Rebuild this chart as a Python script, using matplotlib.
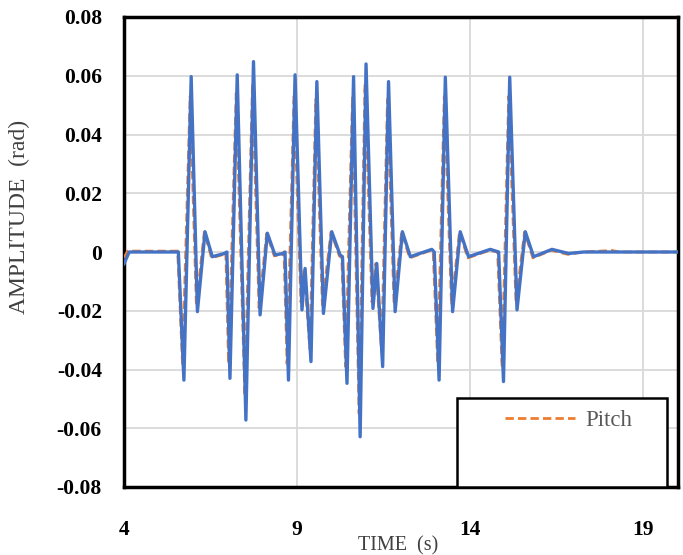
import matplotlib
matplotlib.use("Agg")
import matplotlib.pyplot as plt
from matplotlib.patches import Rectangle
from matplotlib.lines import Line2D

plt.rcParams['font.family'] = ['Liberation Serif', 'DejaVu Serif']

# Reference (blue, solid) series
ref_time = [4.0, 4.15, 5.57, 5.73, 5.94, 6.12, 6.34, 6.55, 6.90, 6.97,
            7.06, 7.27, 7.52, 7.74, 7.93, 8.14, 8.36, 8.60, 8.65, 8.75,
            8.94, 9.14, 9.23, 9.40, 9.57, 9.76, 10.0, 10.24, 10.31, 10.44,
            10.63, 10.82, 10.99, 11.19, 11.30, 11.47, 11.64, 11.83, 12.04, 12.27,
            12.89, 12.96, 13.10, 13.28, 13.49, 13.71, 13.95, 14.58, 14.82, 14.96,
            15.14, 15.35, 15.59, 15.83, 16.36, 16.84, 17.28, 20.0]
ref_amp = [-0.004, 0.0, 0.0, -0.0436, 0.0597, -0.0203, 0.0069, -0.0016, -0.0005, 0.0,
           -0.043, 0.0603, -0.0572, 0.0648, -0.0214, 0.0064, -0.001, -0.0005, 0.0, -0.0436,
           0.0603, -0.0197, -0.0056, -0.0373, 0.058, -0.0209, 0.0069, -0.001, -0.0016, -0.0447,
           0.0597, -0.0629, 0.064, -0.0192, -0.0039, -0.039, 0.058, -0.0203, 0.0069, -0.0016,
           0.0009, 0.0, -0.0436, 0.0595, -0.0203, 0.0069, -0.0016, 0.0009, 0.0, -0.0441,
           0.0595, -0.0197, 0.0069, -0.0016, 0.0009, -0.0005, 0.0, 0.0]

# Pitch (orange, dashed) series
pitch_time = [4.0, 4.1, 5.55, 5.69, 5.91, 6.09, 6.32, 6.53, 6.88, 6.94,
              7.02, 7.24, 7.49, 7.71, 7.90, 8.12, 8.34, 8.58, 8.62, 8.71,
              8.91, 9.11, 9.20, 9.37, 9.54, 9.73, 9.98, 10.22, 10.29, 10.40,
              10.60, 10.79, 10.96, 11.16, 11.27, 11.44, 11.61, 11.80, 12.02, 12.25,
              12.87, 12.93, 13.06, 13.25, 13.46, 13.69, 13.93, 14.56, 14.79, 14.92,
              15.11, 15.32, 15.57, 15.81, 16.34, 16.82, 17.26, 18.1, 18.3, 20.0]
pitch_amp = [-0.002, 0.0003, 0.0003, -0.038, 0.053, -0.018, 0.0068, -0.002, -0.0008, 0.0,
             -0.038, 0.054, -0.049, 0.057, -0.019, 0.0063, -0.0013, -0.0008, 0.0, -0.038,
             0.053, -0.017, -0.006, -0.033, 0.052, -0.018, 0.0068, -0.0013, -0.002, -0.039,
             0.053, -0.055, 0.057, -0.017, -0.004, -0.034, 0.052, -0.018, 0.0068, -0.002,
             0.0006, 0.0, -0.038, 0.053, -0.018, 0.0068, -0.002, 0.0006, 0.0, -0.039,
             0.053, -0.017, 0.0068, -0.002, 0.0006, -0.0008, 0.0, 0.0005, 0.0, 0.0]

x_ticks = [4, 9, 14, 19]
y_ticks = [-0.08, -0.06, -0.04, -0.02, 0, 0.02, 0.04, 0.06, 0.08]
y_tick_labels = ['-0.08', '-0.06', '-0.04', '-0.02', '0', '0.02', '0.04', '0.06', '0.08']

fig = plt.figure(figsize=(6.83, 5.55), dpi=100)
ax = fig.add_axes([124/683, 68/555, 554/683, 470/555])

ax.plot(pitch_time, pitch_amp, color='#ED7D31', lw=2.0, dashes=(3, 1.5),
        dash_joinstyle='round', zorder=3)
ax.plot(ref_time, ref_amp, color='#4472C4', lw=2.4,
        solid_joinstyle='round', zorder=4)

ax.set_xlim(4, 20)
ax.set_ylim(-0.08, 0.08)
ax.set_xticks(x_ticks)
ax.set_xticklabels([str(v) for v in x_ticks], fontsize=15.5, fontweight='bold')
ax.set_yticks(y_ticks)
ax.set_yticklabels(y_tick_labels, fontsize=15.5, fontweight='bold')
ax.tick_params(axis='both', length=0)
ax.tick_params(axis='y', pad=16)
ax.tick_params(axis='x', pad=24)
ax.grid(True, color='#d9d9d9', lw=1.3, zorder=0)
ax.set_axisbelow(True)
for s in ax.spines.values():
    s.set_linewidth(2.5)
    s.set_color('black')

ax.set_xlabel('TIME  (s)', fontsize=14.5, color='#404040')
ax.xaxis.set_label_coords(0.495, -0.104)
ax.set_ylabel('AMPLITUDE  (rad)', fontsize=17, color='#404040')
ax.yaxis.set_label_coords(-0.170, 0.574)

# Legend box
box = Rectangle((0.601, 0.0), 0.379, 0.189, transform=ax.transAxes,
                facecolor='white', edgecolor='black', lw=1.8, zorder=5)
ax.add_patch(box)
handle = Line2D([], [], color='#ED7D31', lw=2.0, dashes=(3, 1.5))
leg = ax.legend([handle], ['Pitch'], loc='upper left', bbox_to_anchor=(0.671, 0.183),
                frameon=False, fontsize=16.5, handlelength=3.05, handletextpad=0.48,
                borderaxespad=0)
for t in leg.get_texts():
    t.set_color('#595959')
leg.set_zorder(6)

fig.savefig('out.png', dpi=100)
